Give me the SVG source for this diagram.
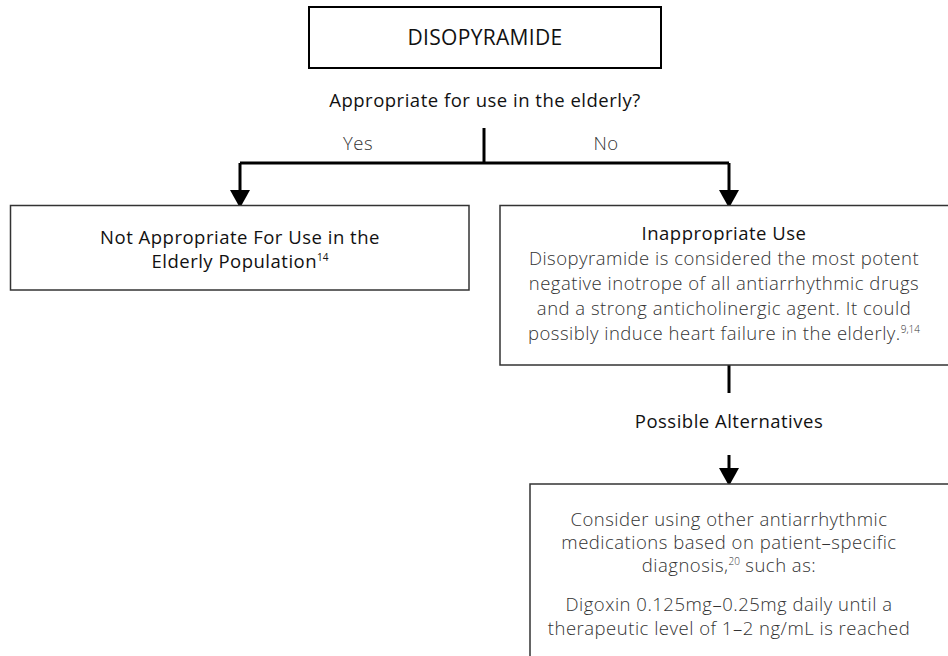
<svg xmlns="http://www.w3.org/2000/svg" width="948" height="656" viewBox="0 0 948 656">
<style>
  text { font-family: "Open Sans", "Liberation Sans", sans-serif; text-anchor: middle; }
  .h { font-size: 18.5px; fill: #111; letter-spacing: 0.5px; }
  .b { font-size: 18.5px; fill: #333; font-weight: 300; letter-spacing: 0.5px; }
  .t { font-size: 21px; fill: #111; letter-spacing: 0.3px; }
  .sup { font-size: 10px; letter-spacing: 0; }
  .box { fill: #fff; stroke: #333; stroke-width: 1.5; }
  .top { fill: #fff; stroke: #000; stroke-width: 2; }
  .conn { fill: none; stroke: #000; stroke-width: 3; }
</style>
<defs>
  <marker id="arr" markerUnits="userSpaceOnUse" markerWidth="18" markerHeight="20" viewBox="0 0 18 20" refX="8" refY="10" orient="auto">
    <path d="M0,0 L18,10 L0,20 Z" fill="#000"/>
  </marker>
</defs>

<g id="connectors">
  <path class="conn" d="M484,128 V163"/>
  <path class="conn" d="M240,163 H729"/>
  <path class="conn" d="M240,163 V198" marker-end="url(#arr)"/>
  <path class="conn" d="M729,163 V198" marker-end="url(#arr)"/>
  <path class="conn" d="M729,365 V393"/>
  <path class="conn" d="M729,455 V476" marker-end="url(#arr)"/>
</g>

<g id="node-disopyramide">
  <rect class="top" x="309" y="7" width="352" height="61"/>
  <text class="t" x="485" y="45">DISOPYRAMIDE</text>
</g>

<g id="label-question">
  <text class="h" x="485" y="107">Appropriate for use in the elderly?</text>
</g>
<g id="label-yes"><text class="b" x="358" y="150">Yes</text></g>
<g id="label-no"><text class="b" x="606" y="150">No</text></g>

<g id="node-not-appropriate">
  <rect class="box" x="10.5" y="205.5" width="458.5" height="84.5"/>
  <text class="h" x="240" y="244">Not Appropriate For Use in the</text>
  <text class="h" x="240" y="268">Elderly Population<tspan class="sup" dy="-7">14</tspan></text>
</g>

<g id="node-inappropriate-use">
  <rect class="box" x="500" y="205.5" width="470" height="159.5"/>
  <text class="h" x="724" y="240">Inappropriate Use</text>
  <text class="b" x="724" y="265">Disopyramide is considered the most potent</text>
  <text class="b" x="724" y="290">negative inotrope of all antiarrhythmic drugs</text>
  <text class="b" x="724" y="315">and a strong anticholinergic agent. It could</text>
  <text class="b" x="724" y="340">possibly induce heart failure in the elderly.<tspan class="sup" dy="-7">9,14</tspan></text>
</g>

<g id="label-alternatives">
  <text class="h" x="729" y="428">Possible Alternatives</text>
</g>

<g id="node-consider">
  <rect class="box" x="530" y="484" width="470" height="200"/>
  <text class="b" x="729" y="526">Consider using other antiarrhythmic</text>
  <text class="b" x="729" y="549">medications based on patient–specific</text>
  <text class="b" x="729" y="572">diagnosis,<tspan class="sup" dy="-7">20</tspan><tspan dy="7"> such as:</tspan></text>
  <text class="b" x="729" y="611">Digoxin 0.125mg–0.25mg daily until a</text>
  <text class="b" x="729" y="635">therapeutic level of 1–2 ng/mL is reached</text>
</g>
</svg>
